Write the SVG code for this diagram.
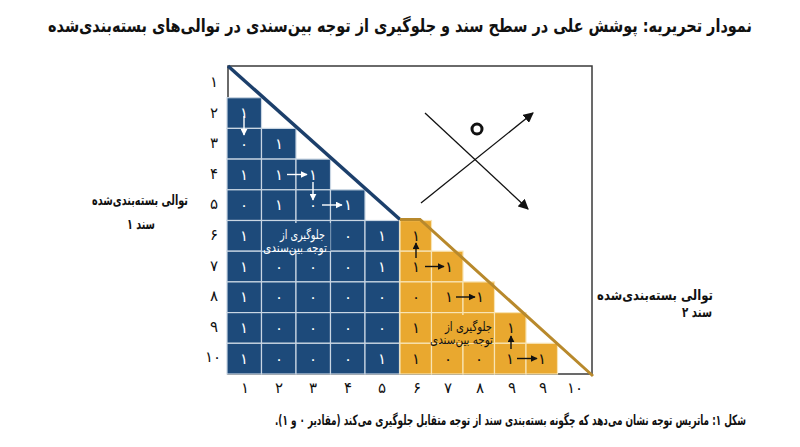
<svg xmlns="http://www.w3.org/2000/svg" width="800" height="447" viewBox="0 0 800 447">
<defs>
<style>
text{font-family:"DejaVu Sans","Noto Sans",sans-serif;}
.t{font-size:18px;font-weight:bold;fill:#111;direction:rtl;text-anchor:middle;}
.cap{font-size:14px;font-weight:bold;fill:#111;direction:rtl;text-anchor:middle;}
.lab{font-size:14px;font-weight:bold;fill:#111;direction:rtl;text-anchor:middle;}
.ax{font-size:15px;fill:#111;text-anchor:middle;dominant-baseline:central;}
.bc{fill:#1d4a7a;stroke:#c9d6e3;stroke-width:1.2;}
.oc{fill:#e9a82f;stroke:#f8e4b4;stroke-width:1.2;}
.wd{font-size:15px;fill:#fff;text-anchor:middle;dominant-baseline:central;}
.kd{font-size:15px;fill:#111;text-anchor:middle;dominant-baseline:central;}
.wl{font-size:12.5px;fill:#fff;direction:rtl;text-anchor:middle;}
.kl{font-size:12.5px;fill:#111;direction:rtl;text-anchor:middle;}
.wa{stroke:#fff;stroke-width:1.4;fill:none;marker-end:url(#mw);}
.ka{stroke:#111;stroke-width:1.4;fill:none;marker-end:url(#mk);}
.xa{stroke:#111;stroke-width:1.3;fill:none;marker-end:url(#mx);}
</style>
<marker id="mw" viewBox="0 0 10 10" refX="9" refY="5" markerWidth="5" markerHeight="5" orient="auto" markerUnits="strokeWidth"><path d="M0,0L10,5L0,10z" fill="#fff"/></marker>
<marker id="mk" viewBox="0 0 10 10" refX="9" refY="5" markerWidth="5" markerHeight="5" orient="auto" markerUnits="strokeWidth"><path d="M0,0L10,5L0,10z" fill="#111"/></marker>
<marker id="mx" viewBox="0 0 10 10" refX="9" refY="5" markerWidth="8" markerHeight="8" orient="auto" markerUnits="strokeWidth"><path d="M0,0L10,5L0,10z" fill="#111"/></marker>
</defs>
<rect width="800" height="447" fill="#fff"/>
<text id="title" class="t" x="400" y="32" textLength="704" lengthAdjust="spacingAndGlyphs">نمودار تحریریه: پوشش علی در سطح سند و جلوگیری از توجه بین‌سندی در توالی‌های بسته‌بندی‌شده</text>

<g id="frame"><rect x="228" y="66" width="364" height="308" fill="#fff" stroke="#3a3a3a" stroke-width="1.5"/></g>

<g id="doc1-cells">
<rect class="bc" x="227" y="97.7" width="34.5" height="30.7"/>
<rect class="bc" x="227" y="128.4" width="34.5" height="30.7"/><rect class="bc" x="261.5" y="128.4" width="34.5" height="30.7"/>
<rect class="bc" x="227" y="159.1" width="34.5" height="30.7"/><rect class="bc" x="261.5" y="159.1" width="34.5" height="30.7"/><rect class="bc" x="296" y="159.1" width="34.5" height="30.7"/>
<rect class="bc" x="227" y="189.8" width="34.5" height="30.7"/><rect class="bc" x="261.5" y="189.8" width="34.5" height="30.7"/><rect class="bc" x="296" y="189.8" width="34.5" height="30.7"/><rect class="bc" x="330.5" y="189.8" width="34.5" height="30.7"/>
<rect class="bc" x="227" y="220.5" width="34.5" height="30.7"/><rect class="bc" x="261.5" y="220.5" width="34.5" height="30.7"/><rect class="bc" x="296" y="220.5" width="34.5" height="30.7"/><rect class="bc" x="330.5" y="220.5" width="34.5" height="30.7"/><rect class="bc" x="365" y="220.5" width="34.5" height="30.7"/>
<rect class="bc" x="227" y="251.2" width="34.5" height="30.7"/><rect class="bc" x="261.5" y="251.2" width="34.5" height="30.7"/><rect class="bc" x="296" y="251.2" width="34.5" height="30.7"/><rect class="bc" x="330.5" y="251.2" width="34.5" height="30.7"/><rect class="bc" x="365" y="251.2" width="34.5" height="30.7"/>
<rect class="bc" x="227" y="281.9" width="34.5" height="30.7"/><rect class="bc" x="261.5" y="281.9" width="34.5" height="30.7"/><rect class="bc" x="296" y="281.9" width="34.5" height="30.7"/><rect class="bc" x="330.5" y="281.9" width="34.5" height="30.7"/><rect class="bc" x="365" y="281.9" width="34.5" height="30.7"/>
<rect class="bc" x="227" y="312.6" width="34.5" height="30.7"/><rect class="bc" x="261.5" y="312.6" width="34.5" height="30.7"/><rect class="bc" x="296" y="312.6" width="34.5" height="30.7"/><rect class="bc" x="330.5" y="312.6" width="34.5" height="30.7"/><rect class="bc" x="365" y="312.6" width="34.5" height="30.7"/>
<rect class="bc" x="227" y="343.3" width="34.5" height="30.7"/><rect class="bc" x="261.5" y="343.3" width="34.5" height="30.7"/><rect class="bc" x="296" y="343.3" width="34.5" height="30.7"/><rect class="bc" x="330.5" y="343.3" width="34.5" height="30.7"/><rect class="bc" x="365" y="343.3" width="34.5" height="30.7"/>
<rect x="262.5" y="223" width="68" height="28" fill="#1d4a7a"/>
</g>

<g id="doc2-cells">
<rect class="oc" x="400" y="220.5" width="31.5" height="30.7"/>
<rect class="oc" x="400" y="251.2" width="31.5" height="30.7"/><rect class="oc" x="431.5" y="251.2" width="31.5" height="30.7"/>
<rect class="oc" x="400" y="281.9" width="31.5" height="30.7"/><rect class="oc" x="431.5" y="281.9" width="31.5" height="30.7"/><rect class="oc" x="463" y="281.9" width="31.5" height="30.7"/>
<rect class="oc" x="400" y="312.6" width="31.5" height="30.7"/><rect class="oc" x="431.5" y="312.6" width="31.5" height="30.7"/><rect class="oc" x="463" y="312.6" width="31.5" height="30.7"/><rect class="oc" x="494.5" y="312.6" width="31.5" height="30.7"/>
<rect class="oc" x="400" y="343.3" width="31.5" height="30.7"/><rect class="oc" x="431.5" y="343.3" width="31.5" height="30.7"/><rect class="oc" x="463" y="343.3" width="31.5" height="30.7"/><rect class="oc" x="494.5" y="343.3" width="31.5" height="30.7"/><rect class="oc" x="526" y="343.3" width="31.5" height="30.7"/>
<rect x="432.5" y="315" width="61" height="28" fill="#e9a82f"/>
</g>

<g id="doc1-values">
<text class="wd" x="244" y="113">۱</text>
<text class="wd" x="244" y="143.5">۰</text><text class="wd" x="279" y="143.5">۱</text>
<text class="wd" x="244" y="174.5">۱</text><text class="wd" x="279" y="174.5">۱</text><text class="wd" x="313" y="174.5">۱</text>
<text class="wd" x="244" y="205">۰</text><text class="wd" x="279" y="205">۱</text><text class="wd" x="313" y="205">۰</text><text class="wd" x="348" y="205">۱</text>
<text class="wd" x="244" y="236">۱</text><text class="wd" x="348" y="236">۰</text><text class="wd" x="382" y="236">۱</text>
<text class="wd" x="244" y="266.5">۱</text><text class="wd" x="279" y="266.5">۰</text><text class="wd" x="313" y="266.5">۰</text><text class="wd" x="348" y="266.5">۰</text><text class="wd" x="382" y="266.5">۱</text>
<text class="wd" x="244" y="297">۱</text><text class="wd" x="279" y="297">۰</text><text class="wd" x="313" y="297">۰</text><text class="wd" x="348" y="297">۰</text><text class="wd" x="382" y="297">۰</text>
<text class="wd" x="244" y="328">۱</text><text class="wd" x="279" y="328">۰</text><text class="wd" x="313" y="328">۰</text><text class="wd" x="348" y="328">۰</text><text class="wd" x="382" y="328">۰</text>
<text class="wd" x="244" y="358.5">۱</text><text class="wd" x="279" y="358.5">۰</text><text class="wd" x="313" y="358.5">۰</text><text class="wd" x="348" y="358.5">۰</text><text class="wd" x="382" y="358.5">۱</text>
<text class="wl" x="302.5" y="239" textLength="45" lengthAdjust="spacingAndGlyphs">جلوگیری از</text>
<text class="wl" x="295" y="252" textLength="64" lengthAdjust="spacingAndGlyphs">توجه بین‌سندی</text>
</g>

<g id="doc2-values">
<text class="kd" x="416" y="236">۱</text>
<text class="kd" x="416" y="266.5">۱</text><text class="kd" x="449" y="266.5">۱</text>
<text class="kd" x="416" y="297">۰</text><text class="kd" x="449" y="297">۱</text><text class="kd" x="480" y="297">۱</text>
<text class="kd" x="416" y="328">۱</text><text class="kd" x="511" y="328">۱</text>
<text class="kd" x="416" y="358.5">۱</text><text class="kd" x="448" y="358.5">۰</text><text class="kd" x="479" y="358.5">۰</text><text class="kd" x="510" y="358.5">۱</text><text class="kd" x="542" y="358.5">۱</text>
<text class="kl" x="468.5" y="331" textLength="47" lengthAdjust="spacingAndGlyphs">جلوگیری از</text>
<text class="kl" x="461.5" y="344" textLength="63" lengthAdjust="spacingAndGlyphs">توجه بین‌سندی</text>
</g>

<g id="connectors">
<polyline points="228,66 400,219.5" fill="none" stroke="#1c3f6b" stroke-width="3.5"/>
<polyline points="400,219.5 420,219.5 593,376" fill="none" stroke="#b8892c" stroke-width="3"/>
<line class="wa" x1="244" y1="116" x2="244" y2="135"/>
<line class="wa" x1="287" y1="174.5" x2="307" y2="174.5"/>
<line class="wa" x1="313" y1="182" x2="313" y2="200"/>
<line class="wa" x1="322" y1="205" x2="342" y2="205"/>
<line class="ka" x1="416" y1="258" x2="416" y2="243"/>
<line class="ka" x1="425" y1="266.5" x2="444" y2="266.5"/>
<line class="ka" x1="456" y1="297" x2="475" y2="297"/>
<line class="ka" x1="511" y1="349" x2="511" y2="336"/>
<line class="ka" x1="517" y1="358.5" x2="537" y2="358.5"/>
<line class="xa" x1="425" y1="113" x2="528" y2="209"/>
<line class="xa" x1="421" y1="203" x2="533" y2="113"/>
</g>
<g id="zero-mark"><circle cx="477" cy="129" r="5" fill="none" stroke="#111" stroke-width="3"/></g>

<g id="row-axis">
<text class="ax" x="214" y="82">۱</text><text class="ax" x="214" y="112.6">۲</text><text class="ax" x="214" y="143.2">۳</text><text class="ax" x="214" y="173.8">۴</text><text class="ax" x="214" y="204.4">۵</text>
<text class="ax" x="214" y="235">۶</text><text class="ax" x="214" y="265.6">۷</text><text class="ax" x="214" y="296.2">۸</text><text class="ax" x="214" y="326.8">۹</text><text class="ax" x="213" y="357.4">۱۰</text>
</g>
<g id="col-axis">
<text class="ax" x="245" y="388">۱</text><text class="ax" x="279" y="388">۲</text><text class="ax" x="313" y="388">۳</text><text class="ax" x="348" y="388">۴</text><text class="ax" x="382" y="388">۵</text>
<text class="ax" x="417" y="388">۶</text><text class="ax" x="448" y="388">۷</text><text class="ax" x="480" y="388">۸</text><text class="ax" x="512" y="388">۹</text><text class="ax" x="543" y="388">۹</text><text class="ax" x="575" y="388">۱۰</text>
</g>

<g id="label-doc1">
<text class="lab" x="140" y="205" textLength="96" lengthAdjust="spacingAndGlyphs">توالی بسته‌بندی‌شده</text>
<text class="lab" x="141" y="229" textLength="28" lengthAdjust="spacingAndGlyphs">سند ۱</text>
</g>
<g id="label-doc2">
<text class="lab" x="655" y="300" textLength="116" lengthAdjust="spacingAndGlyphs">توالی بسته‌بندی‌شده</text>
<text class="lab" x="697" y="317" textLength="30" lengthAdjust="spacingAndGlyphs">سند ۲</text>
</g>

<text id="caption" class="cap" x="510.5" y="425" textLength="471" lengthAdjust="spacingAndGlyphs">شکل ۱: ماتریس توجه نشان می‌دهد که چگونه بسته‌بندی سند از توجه متقابل جلوگیری می‌کند (مقادیر ۰ و ۱).</text>
</svg>
